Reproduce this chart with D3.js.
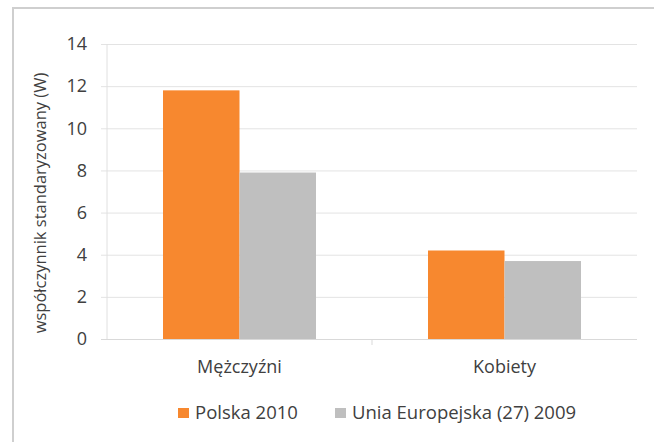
<!DOCTYPE html>
<html>
<head>
<meta charset="utf-8">
<script src="https://cdn.jsdelivr.net/npm/d3@7"></script>
<style>
  body { margin: 0; background: #fff; }
  text { font-family: "Open Sans", sans-serif; fill: #404040; }
</style>
</head>
<body>
<div id="chart"></div>
<script>
// chart data
var categories = ["Mężczyźni", "Kobiety"];
var seriesNames = ["Polska 2010", "Unia Europejska (27) 2009"];
var polska = [11.8, 4.2];
var ue = [7.9, 3.7];
var yTicks = [0, 2, 4, 6, 8, 10, 12, 14];

var colors = ["#f7882f", "#bfbfbf"];

var W = 654, H = 442;
var margin = {top: 44, right: 17, bottom: 103, left: 107},
    width = W - margin.left - margin.right,
    height = H - margin.top - margin.bottom;

var svg = d3.select("#chart")
  .append("svg")
    .attr("width", W)
    .attr("height", H);

// outer frame (only top and left edges visible)
svg.append("path")
  .attr("d", "M13,442 L13,8 L654,8")
  .attr("fill", "none")
  .attr("stroke", "#cfcfcf")
  .attr("stroke-width", 2);

var g = svg.append("g")
  .attr("transform", "translate(" + margin.left + "," + margin.top + ")");

var x0 = d3.scaleBand()
  .domain(categories)
  .range([0, width])
  .paddingInner(0)
  .paddingOuter(0);

var x1 = d3.scaleBand()
  .domain(seriesNames)
  .range([56, x0.bandwidth() - 56]);

var y = d3.scaleLinear()
  .domain([0, 14])
  .range([height, 0]);

// gridlines + y axis
var yAxis = g.append("g")
  .call(d3.axisLeft(y).tickValues(yTicks).tickSize(-width).tickSizeOuter(0).tickPadding(20));
yAxis.select(".domain").remove();
yAxis.selectAll(".tick line").attr("stroke", "#e3e3e3").attr("x1", -6);
yAxis.selectAll(".tick text").style("font-size", "18px").attr("fill", "#404040");
g.append("line")
  .attr("x1", 0).attr("x2", 0).attr("y1", 0).attr("y2", height)
  .attr("stroke", "#e0e0e0");

// bars
var rows = categories.map(function(c, i) {
  return {cat: c, values: [polska[i], ue[i]]};
});

g.selectAll(".grp")
  .data(rows)
  .enter()
  .append("g")
    .attr("transform", function(d) { return "translate(" + x0(d.cat) + ",0)"; })
  .selectAll("rect")
  .data(function(d) { return d.values.map(function(v, j) { return {name: seriesNames[j], v: v, j: j}; }); })
  .enter()
  .append("rect")
    .attr("x", function(d) { return x1(d.name); })
    .attr("width", x1.bandwidth())
    .attr("y", function(d) { return y(d.v); })
    .attr("height", function(d) { return height - y(d.v); })
    .attr("fill", function(d) { return colors[d.j]; });

// x axis
var xAxis = g.append("g")
  .attr("transform", "translate(0," + height + ")")
  .call(d3.axisBottom(x0).tickSize(0).tickPadding(21));
xAxis.select(".domain").attr("stroke", "#d9d9d9").attr("d", "M-6,0.5H" + width);
xAxis.selectAll(".tick text").style("font-size", "18px").attr("fill", "#404040");
xAxis.selectAll(".sep")
  .data([x0.bandwidth()])
  .enter()
  .append("line")
    .attr("x1", function(d) { return d; })
    .attr("x2", function(d) { return d; })
    .attr("y1", 0).attr("y2", 6)
    .attr("stroke", "#d9d9d9");

// y axis title
svg.append("text")
  .attr("transform", "translate(46,203) rotate(-90)")
  .attr("text-anchor", "middle")
  .style("font-size", "16.5px")
  .text("współczynnik standaryzowany (W)");

// legend
var legendX = [178, 335];
var legend = svg.selectAll(".legend")
  .data(seriesNames)
  .enter()
  .append("g")
    .attr("transform", function(d, i) { return "translate(" + legendX[i] + ",413)"; });
legend.append("rect")
  .attr("x", 0).attr("y", -5)
  .attr("width", 11).attr("height", 10)
  .attr("fill", function(d, i) { return colors[i]; });
legend.append("text")
  .attr("x", 17)
  .attr("dy", "0.35em")
  .style("font-size", "18.5px")
  .text(function(d) { return d; });
</script>
</body>
</html>
